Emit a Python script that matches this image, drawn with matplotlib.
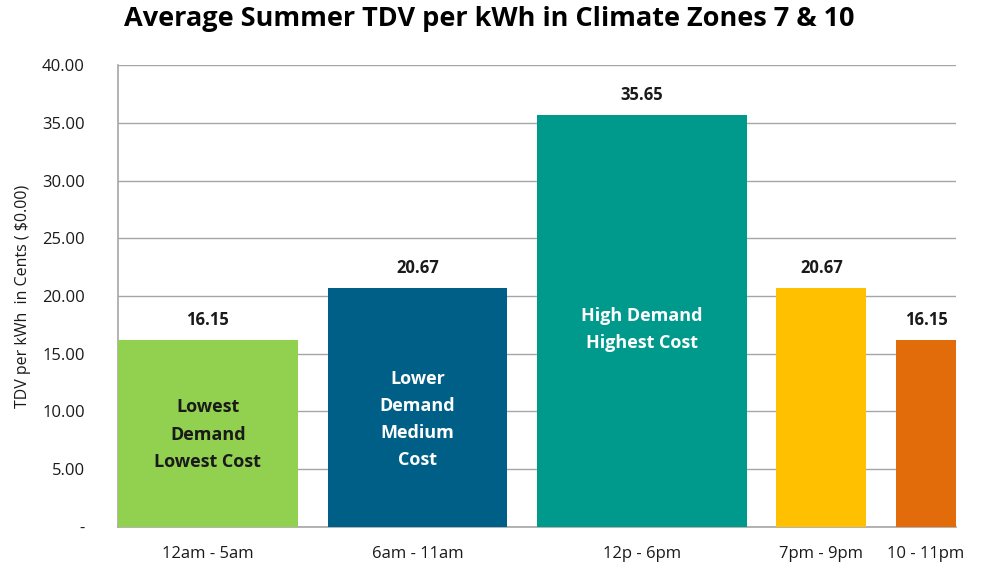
import numpy as np
import matplotlib.pyplot as plt
from matplotlib.ticker import FuncFormatter

# Time-of-use periods, their length in hours and the average TDV value.
PERIODS = ["12am - 5am", "6am - 11am", "12p - 6pm", "7pm - 9pm", "10 - 11pm"]
HOURS = [6, 6, 7, 3, 2]
TDV_CENTS = [16.15, 20.67, 35.65, 20.67, 16.15]
INSIDE_LABELS = ["Lowest\nDemand\nLowest Cost", "Lower\nDemand\nMedium\nCost",
                 "High Demand\nHighest Cost", "", ""]
INSIDE_Y = [8.0, 9.3, 17.1, 0, 0]
COLORS = ["#92D050", "#005F87", "#009A8C", "#FFC000", "#E36C0A"]
INSIDE_COLORS = ["#1a1a1a", "white", "white", "white", "white"]

plt.rcParams["font.family"] = ["Open Sans", "DejaVu Sans"]

fig = plt.figure(figsize=(9.87, 5.66), dpi=100)
ax = fig.add_axes([0.1196, 0.069, 0.849, 0.816])

gap = 1
lefts = np.concatenate([[0], np.cumsum(np.array(HOURS[:-1]) + gap)])
centers = lefts + np.array(HOURS) / 2

ax.bar(lefts, TDV_CENTS, width=HOURS, align="edge", color=COLORS, zorder=3)

for cx, val in zip(centers, TDV_CENTS):
    ax.text(cx, val + 1.0, f"{val:.2f}", ha="center", va="bottom",
            fontsize=12, fontweight="bold", color="#1a1a1a")

for cx, txt, ty, col in zip(centers, INSIDE_LABELS, INSIDE_Y, INSIDE_COLORS):
    if txt:
        ax.text(cx, ty, txt, ha="center", va="center", fontsize=13,
                fontweight="bold", color=col, linespacing=1.65)

ax.set_xlim(0, lefts[-1] + HOURS[-1])
ax.set_ylim(0, 40)
ax.set_yticks(np.arange(0, 41, 5))
ax.yaxis.set_major_formatter(FuncFormatter(lambda v, p: "-" if v == 0 else f"{v:.2f}"))
ax.set_xticks(centers)
ax.set_xticklabels(PERIODS)
ax.tick_params(axis="both", length=0, labelsize=12, colors="#1a1a1a")
ax.tick_params(axis="x", pad=14)
ax.tick_params(axis="y", pad=24)

ax.grid(axis="y", color="#A6A6A6", linewidth=1, zorder=0)
for side in ["top", "right"]:
    ax.spines[side].set_visible(False)
ax.spines["left"].set_color("#A6A6A6")
ax.spines["bottom"].set_color("#A6A6A6")
ax.spines["left"].set_linewidth(1.2)
ax.spines["bottom"].set_linewidth(1.2)

ax.set_ylabel("TDV per kWh  in Cents ( $0.00)", fontsize=11.5, color="#1a1a1a", labelpad=8)

fig.suptitle("Average Summer TDV per kWh in Climate Zones 7 & 10", x=0.496, y=0.99,
             fontsize=19.5, fontweight="bold", color="black")

fig.savefig("out.png", dpi=100)
